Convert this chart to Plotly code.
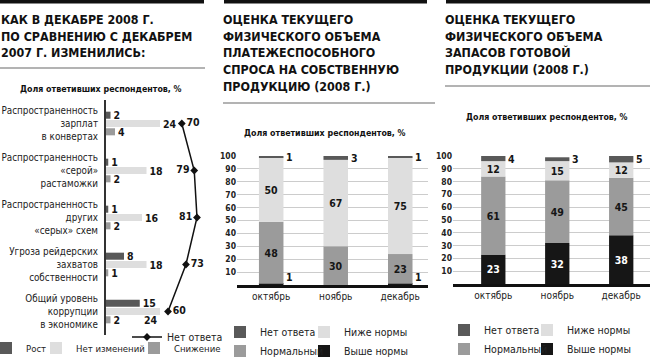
import plotly.graph_objects as go
import numpy as np

W, H = 650, 358
def px(x): return x / W
def py(y): return 1 - y / H

# ---------------- data ----------------
p1_categories = [
    "Распространенность<br>зарплат<br>в конвертах",
    "Распространенность<br>«серой»<br>растаможки",
    "Распространенность<br>других<br>«серых» схем",
    "Угроза рейдерских<br>захватов<br>собственности",
    "Общий уровень<br>коррупции<br>в экономике",
]
p1_growth = [2, 1, 1, 8, 15]
p1_nochange = [24, 18, 16, 18, 24]
p1_decline = [4, 2, 2, 1, 2]
p1_noanswer = [70, 79, 81, 73, 60]

months = ["октябрь", "ноябрь", "декабрь"]
p2_above = [1, 0, 1]
p2_normal = [48, 30, 23]
p2_below = [50, 67, 75]
p2_noans = [1, 3, 1]

p3_above = [23, 32, 38]
p3_normal = [61, 49, 45]
p3_below = [12, 15, 12]
p3_noans = [4, 3, 5]

title1 = ["КАК В ДЕКАБРЕ 2008 Г.", "ПО СРАВНЕНИЮ С ДЕКАБРЕМ", "2007 Г. ИЗМЕНИЛИСЬ:"]
title2 = ["ОЦЕНКА ТЕКУЩЕГО", "ФИЗИЧЕСКОГО ОБЪЕМА", "ПЛАТЕЖЕСПОСОБНОГО",
          "СПРОСА НА СОБСТВЕННУЮ", "ПРОДУКЦИЮ (2008 Г.)"]
title3 = ["ОЦЕНКА ТЕКУЩЕГО", "ФИЗИЧЕСКОГО ОБЪЕМА", "ЗАПАСОВ ГОТОВОЙ",
          "ПРОДУКЦИИ (2008 Г.)"]
subtitle = "Доля ответивших респондентов, %"

# ---------------- style ----------------
NARROW = "DejaVu Sans Condensed, Liberation Sans Narrow, Arial Narrow, sans-serif"
DARK = "#595959"
MID = "#9b9b9b"
LIGHT = "#dedede"
BLACK = "#161616"
TXT = "#151515"
NUMF = dict(family=NARROW, size=10.5, color=TXT, weight="bold")

fig = go.Figure()
anns = []

# ---------------- panel 1 ----------------
def lbl(vals):
    return [str(v) for v in vals]

nochange_text = lbl(p1_nochange)
nochange_text[4] = ""  # this label is drawn below the bar in the original

for name, vals, col, txt, lg in [
    ("Рост", p1_growth, DARK, lbl(p1_growth), "legend2"),
    ("Нет изменений", p1_nochange, LIGHT, nochange_text, "legend3"),
    ("Снижение", p1_decline, MID, lbl(p1_decline), "legend4"),
]:
    fig.add_trace(go.Bar(
        y=p1_categories, x=vals, orientation="h", name=name,
        marker=dict(color=col, line=dict(width=0)),
        text=txt, textposition="outside", constraintext="none", cliponaxis=False,
        textfont=NUMF, xaxis="x", yaxis="y", legend=lg,
    ))

fig.add_trace(go.Scatter(
    y=p1_categories, x=p1_noanswer, mode="lines+markers+text", name="Нет ответа",
    line=dict(color="#111", width=1.5),
    marker=dict(symbol="diamond", size=6, color="#111"),
    text=lbl(p1_noanswer),
    textposition=["middle right", "middle left", "middle left", "middle right", "middle right"],
    textfont=NUMF, cliponaxis=False, xaxis="x2", yaxis="y", legend="legend",
))

# label of the last "Нет изменений" bar, drawn below the bar
anns.append(dict(text=str(p1_nochange[4]), x=p1_nochange[4], y=p1_categories[4],
                 xref="x", yref="y", xanchor="right", yanchor="middle", yshift=-8,
                 showarrow=False, font=NUMF))

# ---------------- panels 2 & 3 (stacked via base) ----------------
def stacked(series, xa, ya, og):
    base = np.zeros(len(months))
    for name, vals, col, tcol, lg, rank in series:
        vals = np.array(vals, dtype=float)
        txt = [str(int(v)) if v >= 10 else "" for v in vals]
        fig.add_trace(go.Bar(
            x=months, y=vals, base=base.copy(), name=name,
            marker=dict(color=col, line=dict(width=0)),
            width=0.38, offsetgroup=og,
            text=txt, textposition="inside", insidetextanchor="middle",
            textangle=0, constraintext="none",
            textfont=dict(NUMF, color=tcol),
            xaxis=xa, yaxis=ya, legend=lg, legendrank=rank,
        ))
        for i, v in enumerate(vals):
            if 0 < v < 10:
                bottom = base[i] == 0
                anns.append(dict(
                    x=months[i], y=base[i] + (0 if bottom else v / 2),
                    xref=xa, yref=ya, text=str(int(v)), showarrow=False,
                    xanchor="left", yanchor="bottom" if bottom else "middle",
                    xshift=13, font=NUMF,
                ))
        base = base + vals

stacked([
    ("Выше нормы", p2_above, BLACK, "white", "legend6", 2),
    ("Нормальный", p2_normal, MID, TXT, "legend5", 2),
    ("Ниже нормы", p2_below, LIGHT, TXT, "legend6", 1),
    ("Нет ответа", p2_noans, DARK, TXT, "legend5", 1),
], "x3", "y3", "p2")

stacked([
    ("Выше нормы", p3_above, BLACK, "white", "legend8", 2),
    ("Нормальный", p3_normal, MID, TXT, "legend7", 2),
    ("Ниже нормы", p3_below, LIGHT, TXT, "legend8", 1),
    ("Нет ответа", p3_noans, DARK, TXT, "legend7", 1),
], "x4", "y4", "p3")

# ---------------- axes ----------------
catf = dict(family=NARROW, size=9.8, color="#222")
monf = dict(family=NARROW, size=10, color="#222")
tickf = dict(family=NARROW, size=8.5, color="#222", weight="bold")

layout_axes = dict(
    xaxis=dict(domain=[px(106), px(205)], range=[0, 44], visible=False),
    xaxis2=dict(overlaying="x", anchor="y", range=[15.1, 86.8], visible=False),
    yaxis=dict(domain=[py(335), py(100)], anchor="x", type="category",
               categoryarray=p1_categories, autorange="reversed",
               showline=True, linecolor="#333", linewidth=2, showgrid=False,
               ticks="", tickfont=catf, ticklabelstandoff=4),
    xaxis3=dict(domain=[px(237), px(428)], anchor="y3", type="category",
                range=[-0.53, 2.43], showline=True, linecolor="#111", linewidth=2.5,
                ticks="", showgrid=False, tickfont=monf),
    yaxis3=dict(domain=[py(285), py(156)], anchor="x3", range=[0, 100],
                tickvals=list(range(10, 101, 10)), showgrid=True,
                gridcolor="#cccccc", gridwidth=1, zeroline=False, ticks="",
                tickfont=tickf, showline=False),
    xaxis4=dict(domain=[px(453), px(650)], anchor="y4", type="category",
                range=[-0.63, 2.45], showline=True, linecolor="#111", linewidth=2.5,
                ticks="", showgrid=False, tickfont=monf),
    yaxis4=dict(domain=[py(284), py(156)], anchor="x4", range=[0, 100],
                tickvals=list(range(10, 101, 10)), showgrid=True,
                gridcolor="#cccccc", gridwidth=1, zeroline=False, ticks="",
                tickfont=tickf, showline=False),
)

def leg(x, y, size=10.5):
    return dict(x=px(x), y=py(y), xanchor="left", yanchor="top", orientation="v",
                font=dict(family=NARROW, size=size, color="#222"),
                bgcolor="rgba(0,0,0,0)", borderwidth=0,
                itemwidth=30, tracegroupgap=0, traceorder="normal")

# ---------------- text: titles, subtitles ----------------
def title(lines, x, y0, step=17):
    for i, t in enumerate(lines):
        anns.append(dict(text=t, x=px(x), y=py(y0 + i * step),
                         xref="paper", yref="paper", xanchor="left", yanchor="middle",
                         showarrow=False,
                         font=dict(family=NARROW, size=12.4, color="#111", weight="bold")))
title(title1, -1, 19)
title(title2, 221, 19)
title(title3, 443, 19)

for cx, cy in [(101, 89), (325, 133), (547, 117)]:
    anns.append(dict(text=subtitle, x=px(cx), y=py(cy),
                     xref="paper", yref="paper", xanchor="center", yanchor="middle",
                     showarrow=False,
                     font=dict(family=NARROW, size=8.8, color="#111", weight="bold")))

shapes = []
for x0, x1 in [(0, 204), (224, 427), (446, 650)]:
    shapes.append(dict(type="rect", xref="paper", yref="paper", x0=px(x0), x1=px(x1),
                       y0=py(3.5), y1=py(0), fillcolor="#111", line=dict(width=0)))
for x0, x1, y in [(0, 205, 68), (223, 435, 103), (445, 650, 86)]:
    shapes.append(dict(type="line", xref="paper", yref="paper", x0=px(x0), x1=px(x1),
                       y0=py(y), y1=py(y), line=dict(color="#9a9a9a", width=1.5)))

fig.update_layout(
    width=W, height=H, margin=dict(l=0, r=0, t=0, b=0, autoexpand=False),
    paper_bgcolor="white", plot_bgcolor="white",
    barmode="group", bargap=0.47, bargroupgap=0.15,
    showlegend=True, hovermode=False,
    legend=leg(127, 322.5),
    legend2=leg(-14, 333.5, 9.5),
    legend3=leg(36, 333.5, 9.5),
    legend4=leg(134, 333.5, 9.5),
    legend5=leg(220, 317.5),
    legend6=leg(304, 317.5),
    legend7=leg(444, 315.5),
    legend8=leg(527, 315.5),
    annotations=anns, shapes=shapes,
    font=dict(family=NARROW, color="#222"),
    **layout_axes,
)

fig.write_html("out.html",
               config={"displayModeBar": False},
               post_script="document.body.style.margin='0';"
                           "document.body.style.overflow='hidden';")
